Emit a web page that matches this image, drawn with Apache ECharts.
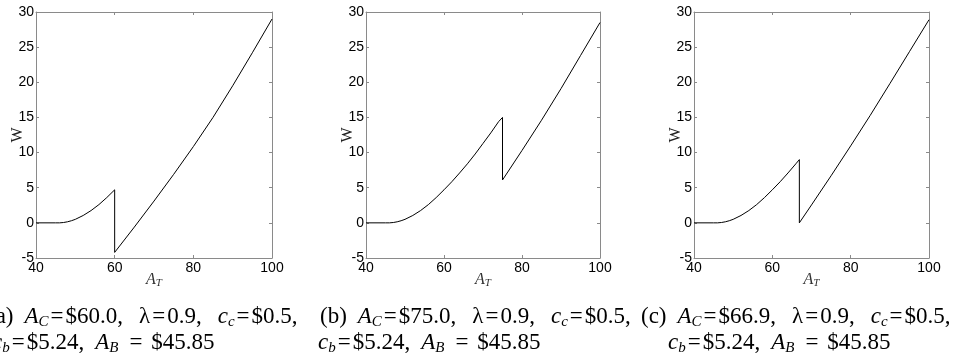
<!DOCTYPE html>
<html>
<head>
<meta charset="utf-8">
<script src="https://cdn.jsdelivr.net/npm/echarts@6/dist/echarts.min.js"></script>
<style>
  html, body { margin: 0; padding: 0; background: #fff; }
  #chart { width: 969px; height: 360px; }
</style>
</head>
<body>
<div id="chart"></div>
<script>
// W against A_T, three cases; jump at A_C
const aX = [40, 45, 46, 47, 48, 49, 50, 52, 54, 56, 58, 60, 60, 65, 70, 75, 80, 85, 90, 95, 100]
const aW = [0, 0, 0, 0.05, 0.15, 0.3, 0.5, 1.05, 1.75, 2.6, 3.6, 4.7, -4.2, -0.6, 3.1, 6.9, 10.85, 15.0, 19.5, 24.2, 29.0]

const bX = [40, 45, 46, 47, 48, 49, 50, 52, 54, 56, 58, 60, 62, 64, 66, 68, 70, 72, 74, 75, 75, 80, 85, 90, 95, 100]
const bW = [0, 0, 0, 0.05, 0.15, 0.3, 0.5, 1.05, 1.75, 2.6, 3.6, 4.7, 5.85, 7.1, 8.4, 9.8, 11.3, 12.8, 14.4, 15.0, 6.1, 10.3, 14.6, 19.1, 23.8, 28.5]

const cX = [40, 45, 46, 47, 48, 49, 50, 52, 54, 56, 58, 60, 62, 64, 66, 66.9, 66.9, 70, 75, 80, 85, 90, 95, 100]
const cW = [0, 0, 0, 0.05, 0.15, 0.3, 0.5, 1.05, 1.75, 2.6, 3.6, 4.7, 5.85, 7.1, 8.4, 9.0, 0, 2.55, 6.7, 10.95, 15.3, 19.8, 24.35, 28.9]

const xTicks = [40, 60, 80, 100]
const yTicks = [-5, 0, 5, 10, 15, 20, 25, 30]

const captionLine1 = [
  '(a){g1| }{i|A}{s|C}{e|=}$60.0,{g2| }λ{e|=}0.9,{g2| }{i|c}{s|c}{e|=}$0.5,',
  '(b){g1| }{i|A}{s|C}{e|=}$75.0,{g2| }λ{e|=}0.9,{g2| }{i|c}{s|c}{e|=}$0.5,',
  '(c){g1| }{i|A}{s|C}{e|=}$66.9,{g2| }λ{e|=}0.9,{g2| }{i|c}{s|c}{e|=}$0.5,',
]
const captionLine2 = [
  '{i|c}{s|b}{e|=}$5.24,{g1| }{i|A}{s|B}{ew|=}$45.85',
  '{i|c}{s|b}{e|=}$5.24,{g1| }{i|A}{s|B}{ew|=}$45.85',
  '{i|c}{s|b}{e|=}$5.24,{g1| }{i|A}{s|B}{ew|=}$45.85',
]

const panels = [
  { left: 36, width: 236, x: aX, w: aW, cap1: -12, cap2: -8 },
  { left: 366, width: 234, x: bX, w: bW, cap1: 320, cap2: 318 },
  { left: 694, width: 235, x: cX, w: cW, cap1: 641, cap2: 668 },
]

const axisGray = '#8a8a8a'
const serif = 'Liberation Serif'
const capSize = 23

const capRich = {
  i: { fontFamily: serif, fontStyle: 'italic', fontSize: capSize, lineHeight: 26 },
  s: { fontFamily: serif, fontStyle: 'italic', fontSize: 15, lineHeight: 15, verticalAlign: 'bottom' },
  e: { fontFamily: serif, fontSize: capSize, lineHeight: 26, padding: [0, 2, 0, 2] },
  ew: { fontFamily: serif, fontSize: capSize, lineHeight: 26, padding: [0, 9, 0, 11] },
  g1: { fontSize: capSize, width: 11 },
  g2: { fontSize: capSize, width: 16 },
}

const chart = echarts.init(document.getElementById('chart'))

let grid = [], xAxis = [], yAxis = [], series = [], graphic = []
panels.forEach((p, k) => {
  grid.push({ left: p.left, top: 12, width: p.width, height: 246, show: false })
  const tickStyle = { show: true, inside: true, length: 3, lineStyle: { color: axisGray } }
  const lineStyle = { show: true, onZero: false, lineStyle: { color: axisGray, width: 1 } }
  xAxis.push({
    type: 'value', gridIndex: k, min: 40, max: 100, interval: 20, position: 'bottom',
    axisLine: lineStyle, axisTick: tickStyle, splitLine: { show: false },
    axisLabel: { color: '#000', fontFamily: 'Liberation Sans', fontSize: 14, margin: 3,
      customValues: xTicks },
    name: '{i|A}{s|T}', nameLocation: 'middle', nameGap: 13, nameMoveOverlap: false,
    nameTextStyle: { rich: {
      i: { fontFamily: serif, fontStyle: 'italic', fontSize: 16, lineHeight: 18, color: '#333' },
      s: { fontFamily: serif, fontStyle: 'italic', fontSize: 11, lineHeight: 11, verticalAlign: 'bottom', color: '#333' },
    } },
  })
  xAxis.push({
    type: 'value', gridIndex: k, min: 40, max: 100, interval: 20, position: 'top',
    axisLine: lineStyle, axisTick: tickStyle, axisLabel: { show: false }, splitLine: { show: false },
  })
  yAxis.push({
    type: 'value', gridIndex: k, min: -5, max: 30, interval: 5, position: 'left',
    axisLine: lineStyle, axisTick: tickStyle, splitLine: { show: false },
    axisLabel: { color: '#000', fontFamily: 'Liberation Sans', fontSize: 14, margin: 2,
      customValues: yTicks },
    name: 'W', nameLocation: 'middle', nameGap: 10, nameRotate: 90, nameMoveOverlap: false,
    nameTextStyle: { color: '#222', fontFamily: serif, fontSize: 16 },
  })
  yAxis.push({
    type: 'value', gridIndex: k, min: -5, max: 30, interval: 5, position: 'right',
    axisLine: lineStyle, axisTick: tickStyle, axisLabel: { show: false }, splitLine: { show: false },
  })
  series.push({
    type: 'line', xAxisIndex: k * 2, yAxisIndex: k * 2, showSymbol: false, symbol: 'none',
    data: p.x.map((v, j) => [v, p.w[j]]),
    lineStyle: { color: '#000', width: 1 }, animation: false,
  })
  graphic.push({
    type: 'text', x: p.cap1, y: 317,
    style: { text: captionLine1[k], rich: capRich, fontFamily: serif, fontSize: capSize,
      lineHeight: 26, fill: '#000', verticalAlign: 'middle', align: 'left' },
  })
  graphic.push({
    type: 'text', x: p.cap2, y: 343,
    style: { text: captionLine2[k], rich: capRich, fontFamily: serif, fontSize: capSize,
      lineHeight: 26, fill: '#000', verticalAlign: 'middle', align: 'left' },
  })
})

chart.setOption({
  animation: false,
  grid, xAxis, yAxis, series, graphic,
})
</script>
</body>
</html>
